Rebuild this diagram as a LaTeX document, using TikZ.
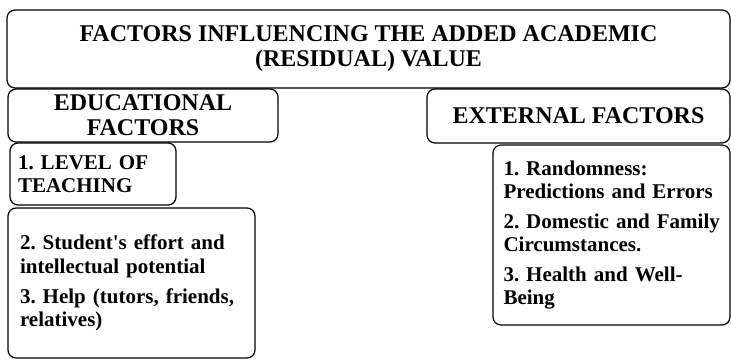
\documentclass[tikz,border=0pt]{standalone}
\usepackage{fontspec}
\setmainfont{Liberation Serif}

\begin{document}
	\begin{tikzpicture}[
		x=1pt, y=-1pt,
		every node/.style={
			draw,
			rectangle,
			rounded corners=8pt,
			line width=1.2pt,
			inner sep=0pt
		},
		head/.style={font=\bfseries\fontsize{24}{25}\selectfont, align=center},
		list/.style={font=\bfseries\frenchspacing\fontsize{21}{23.3}\selectfont, align=left}
		]
		
		\useasboundingbox (0,0) rectangle (731,360);
		
		\node[head, minimum width=723pt, minimum height=78pt] (title) at (368.5,49)
			{FACTORS INFLUENCING THE ADDED ACADEMIC\\(RESIDUAL) VALUE};
		\node[head, minimum width=270pt, minimum height=53pt] (edu) at (143,115.5)
			{EDUCATIONAL\\FACTORS};
		\node[head, minimum width=303pt, minimum height=54pt] (ext) at (578.5,116)
			{EXTERNAL FACTORS};
		
		\node[list, minimum width=166pt, minimum height=62pt, text width=150pt] (teach) at (93,174)
			{1. LEVEL OF\\TEACHING};
		\node[list, minimum width=247pt, minimum height=150pt, text width=223pt] (inner) at (131.5,283)
			{2. Student\textquotesingle s effort and\\intellectual potential\\[6.5pt]
			3. Help (tutors, friends,\\relatives)};
		\node[list, minimum width=237pt, minimum height=180pt, text width=216pt] (outer) at (611.5,235)
			{1. Randomness:\\Predictions and Errors\\[6.5pt]
			\mbox{2. Domestic and Family}\\Circumstances.\\[6.5pt]
			3. Health and Well-\\Being};
		
	\end{tikzpicture}
\end{document}
